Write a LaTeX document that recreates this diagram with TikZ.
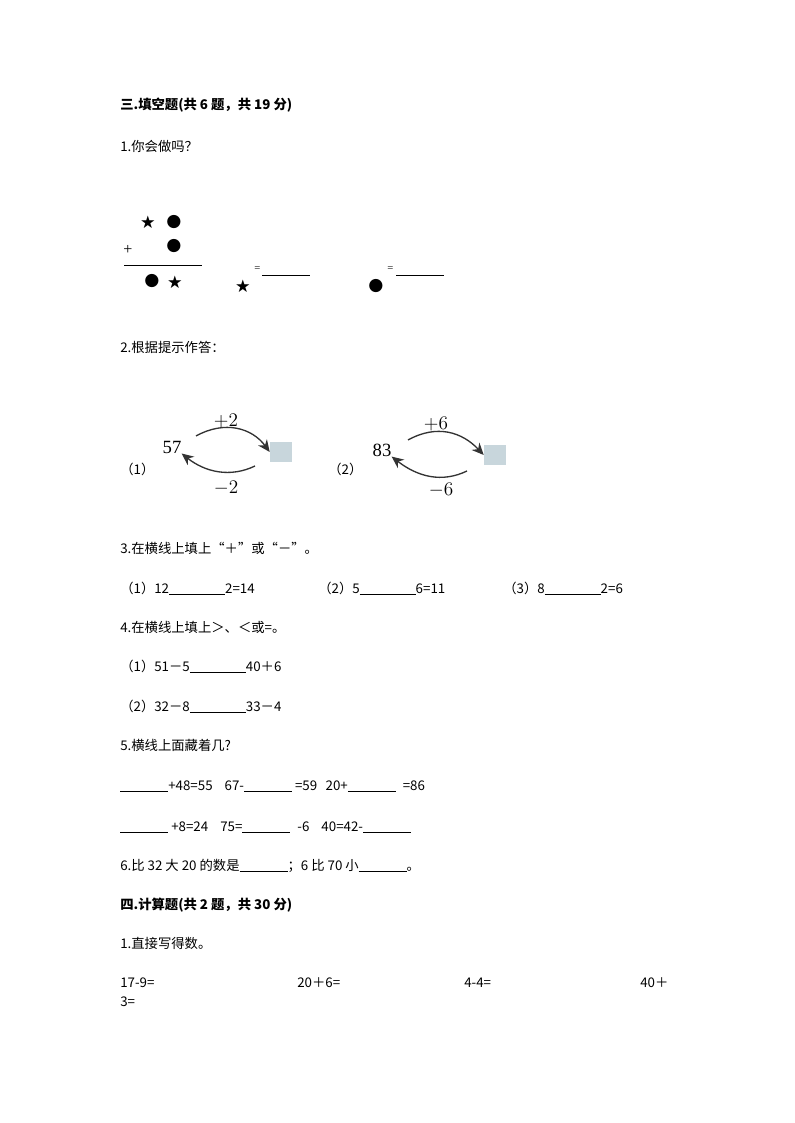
\documentclass[tikz,border=0pt]{standalone}
\usepackage{fontspec}
\setmainfont{Liberation Serif}
\newfontfamily\cjk{Noto Sans CJK SC}
\newfontfamily\sym{DejaVu Sans}
\usetikzlibrary{arrows.meta}
\newcommand{\bl}[1]{\rule[-1pt]{#1pt}{0.5pt}}
\begin{document}
\begin{tikzpicture}[x=0.75pt,y=-0.75pt,
  t/.style={anchor=base west,inner sep=0pt,font=\fontsize{10}{12}\selectfont\cjk},
  bt/.style={t,font=\fontsize{10}{12}\selectfont\cjk\bfseries},
  big/.style={anchor=center,inner sep=0pt,font=\fontsize{14}{16}\selectfont},
  sy/.style={anchor=center,inner sep=0pt,font=\fontsize{13}{14}\selectfont\sym},
  arr/.style={line width=1pt,-{Stealth[length=9pt,width=8pt]},black!80}]
\useasboundingbox (0,0) rectangle (794,1123);
\node[bt] (h1) at (120,110) {三.填空题(共 6 题，共 19 分)};
\node[t] (q1) at (120,152) {1.你会做吗？};
\node[sy] (s1) at (148,222) {★};
\node[sy] (c1) at (174,222) {●};
\node[big,font=\fontsize{12}{14}\selectfont] (p1) at (128,250) {+};
\node[sy] (c2) at (174,246) {●};
\draw (124,265) -- (202,265);
\node[sy] (c3) at (152,281) {●};
\node[sy] (s2) at (175,282) {★};
\node[sy] (s3) at (243,286) {★};
\node[t,font=\fontsize{8}{9}\selectfont] (e1) at (254,272) {=};
\draw (262,275) -- (310,275);
\node[sy] (c4) at (376,286) {●};
\node[t,font=\fontsize{8}{9}\selectfont] (e2) at (387,272) {=};
\draw (396,275) -- (444,275);
\node[t] (q2) at (120,352) {2.根据提示作答：};
% part 1
\node[t] (l1) at (120,474) {（1）};
\node[big] (n57) at (172,447) {57};
\node[big] (a1) at (226,421) {$+2$};
\node[big] (b1) at (226,488) {$-2$};
\node[fill=cyan!25!gray!40,minimum width=22pt*0.75,minimum height=20pt*0.75,inner sep=0pt] (bx1) at (281,452) {};
\draw[arr] (196,436) .. controls (225,420) and (252,428) .. (bx1.west);
\draw[arr] (255,466) .. controls (230,478) and (205,472) .. (n57.south east);
% part 2
\node[t] (l2) at (328,474) {（2）};
\node[big] (n83) at (382,450) {83};
\node[big] (a2) at (436,424) {$+6$};
\node[big] (b2) at (441,490) {$-6$};
\node[fill=cyan!25!gray!40,minimum width=22pt*0.75,minimum height=20pt*0.75,inner sep=0pt] (bx2) at (495,455) {};
\draw[arr] (408,440) .. controls (437,424) and (462,432) .. (bx2.west);
\draw[arr] (467,471) .. controls (442,483) and (418,477) .. (n83.south east);
\node[t] (q3) at (120,553) {3.在横线上填上“＋”或“－”。};
\node[t] (r31) at (120,593) {（1）12\bl{42}2=14};
\node[t] (r32) at (318,593) {（2）5\bl{42}6=11};
\node[t] (r33) at (503,593) {（3）8\bl{42}2=6};
\node[t] (q4) at (120,632) {4.在横线上填上＞、＜或=。};
\node[t] (r41) at (120,671) {（1）51－5\bl{42}40＋6};
\node[t] (r42) at (120,711) {（2）32－8\bl{42}33－4};
\node[t] (q5) at (120,750) {5.横线上面藏着几?};
\node[t] (r51) at (120,790) {\bl{36}+48=55\hspace{9pt}67-\bl{36} =59\hspace{4pt} 20+\bl{36}\hspace{3pt} =86};
\node[t] (r52) at (120,831) {\bl{36} +8=24\hspace{9pt}75=\bl{36}\hspace{3pt} -6\hspace{9pt}40=42-\bl{36}};
\node[t] (q6) at (120,870) {6.比 32 大 20 的数是\bl{36}；6 比 70 小\bl{36}。};
\node[bt] (h2) at (120,909) {四.计算题(共 2 题，共 30 分)};
\node[t] (q7) at (120,948) {1.直接写得数。};
\node[t] (c71) at (120,987) {17-9=};
\node[t] (c72) at (297,987) {20＋6=};
\node[t] (c73) at (464,987) {4-4=};
\node[t] (c74) at (640,987) {40＋};
\node[t] (c75) at (120,1006) {3=};
\end{tikzpicture}
\end{document}
